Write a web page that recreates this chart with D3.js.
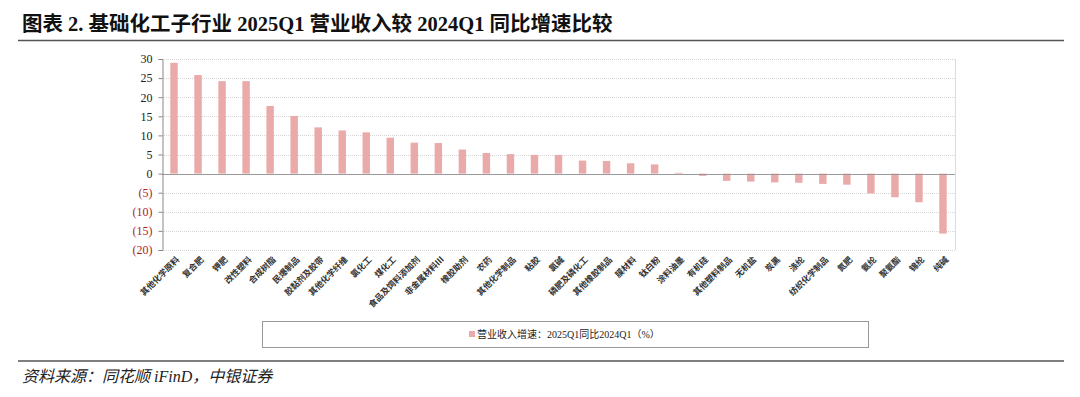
<!DOCTYPE html>
<html>
<head>
<meta charset="utf-8">
<script src="https://cdn.jsdelivr.net/npm/d3@7"></script>
<style>
  body { margin: 0; background: #fff; }
  svg text { font-family: "Liberation Serif", "Noto Sans CJK SC", serif; }
</style>
</head>
<body>
<div id="chart"></div>
<script>
// sub-industries, revenue growth 2025Q1 vs 2024Q1 (%)
var categories = ["其他化学原料", "复合肥", "钾肥", "改性塑料", "合成树脂", "民爆制品", "胶黏剂及胶带",
    "其他化学纤维", "氯化工", "煤化工", "食品及饲料添加剂", "非金属材料III", "橡胶助剂", "农药",
    "其他化学制品", "粘胶", "氯碱", "磷肥及磷化工", "其他橡胶制品", "膜材料", "钛白粉", "涂料油墨",
    "有机硅", "其他塑料制品", "无机盐", "炭黑", "涤纶", "纺织化学制品", "氮肥", "氨纶", "聚氨酯",
    "锦纶", "纯碱"];
var growth = [29.0, 25.8, 24.2, 24.2, 17.7, 15.1, 12.1, 11.3, 10.8, 9.4, 8.1, 8.0, 6.3, 5.4,
    5.1, 4.9, 4.9, 3.4, 3.3, 2.7, 2.4, 0.2, -0.6, -1.9, -2.1, -2.3, -2.4, -2.7, -2.9, -5.2,
    -6.2, -7.5, -15.7];
var yTicks = [30, 25, 20, 15, 10, 5, 0, -5, -10, -15, -20];

var title = "图表 2. 基础化工子行业 2025Q1 营业收入较 2024Q1 同比增速比较";
var legendLabel = "营业收入增速：2025Q1同比2024Q1（%）";
var source = "资料来源：同花顺 iFinD，中银证券";

var width = 1080,
    height = 397;

var svg = d3.select("#chart")
    .append("svg")
    .attr("width", width)
    .attr("height", height);

// title and rules
svg.append("text")
    .attr("x", 22)
    .attr("y", 31)
    .style("font-size", "20.5px")
    .style("font-weight", "bold")
    .style("fill", "#111")
    .text(title);

svg.append("line")
    .attr("x1", 18).attr("x2", 1064)
    .attr("y1", 40.5).attr("y2", 40.5)
    .style("stroke", "#555")
    .style("stroke-width", 1.6);

svg.append("line")
    .attr("x1", 18).attr("x2", 1064)
    .attr("y1", 361).attr("y2", 361)
    .style("stroke", "#555")
    .style("stroke-width", 1.4);

svg.append("text")
    .attr("x", 22)
    .attr("y", 382)
    .style("font-size", "16px")
    .style("font-style", "italic")
    .style("fill", "#222")
    .text(source);

// scales
var x = d3.scaleBand()
    .domain(categories)
    .range([162, 955])
    .paddingInner(0.69)
    .paddingOuter(0.345);

var y = d3.scaleLinear()
    .domain([-20, 30])
    .range([250, 59]);

// plot frame + gridlines
svg.append("g")
    .attr("class", "grid")
    .selectAll("line")
    .data(yTicks.filter(function(d) { return d != 0; }))
    .enter()
    .append("line")
    .attr("x1", 162).attr("x2", 955)
    .attr("y1", function(d) { return Math.round(y(d)) + 0.5; })
    .attr("y2", function(d) { return Math.round(y(d)) + 0.5; })
    .style("stroke", "#d6d6d6")
    .style("stroke-dasharray", "1,1");

svg.append("line")
    .attr("x1", 955.5).attr("x2", 955.5)
    .attr("y1", y(30)).attr("y2", y(-20))
    .style("stroke", "#dcdcdc");

// bars
svg.append("g")
    .selectAll("rect")
    .data(growth)
    .enter()
    .append("rect")
    .attr("x", function(d, i) { return x(categories[i]); })
    .attr("width", x.bandwidth())
    .attr("y", function(d) { return y(Math.max(0, d)); })
    .attr("height", function(d) { return Math.abs(y(d) - y(0)); })
    .style("fill", "#ebaaaa");

// zero line
svg.append("line")
    .attr("x1", 162).attr("x2", 955)
    .attr("y1", Math.round(y(0)) + 0.5).attr("y2", Math.round(y(0)) + 0.5)
    .style("stroke", "#9a9a9a")
    .style("stroke-width", 1.2);

// y axis
var yAxis = d3.axisLeft(y)
    .tickValues(yTicks)
    .tickSize(4)
    .tickFormat(function(d) { return d < 0 ? "(" + (-d) + ")" : d; });

var ya = svg.append("g")
    .attr("transform", "translate(162.5,0)")
    .call(yAxis);
ya.select(".domain").style("stroke", "#888");
ya.selectAll(".tick line").style("stroke", "#888");
ya.selectAll(".tick text")
    .attr("x", -10)
    .style("font-size", "12px")
    .style("font-family", "Liberation Serif, serif")
    .style("fill", function(d) { return d < 0 ? "#b22222" : "#222"; });

// category labels, rotated
svg.append("g")
    .selectAll("text")
    .data(categories)
    .enter()
    .append("text")
    .attr("transform", function(d) {
        return "translate(" + (x(d) + x.bandwidth() / 2 + 4) + ",258) rotate(-45)";
    })
    .attr("text-anchor", "end")
    .attr("dy", "0.35em")
    .style("font-size", "8.5px")
    .style("font-weight", "bold")
    .style("font-family", "Noto Sans CJK SC, sans-serif")
    .style("fill", "#333")
    .text(function(d) { return d; });

// legend
svg.append("rect")
    .attr("x", 262.5).attr("y", 321.5)
    .attr("width", 606).attr("height", 26)
    .style("fill", "none")
    .style("stroke", "#999");

svg.append("rect")
    .attr("x", 469).attr("y", 331)
    .attr("width", 6).attr("height", 6)
    .style("fill", "#ebaaaa");

svg.append("text")
    .attr("x", 477)
    .attr("y", 338)
    .style("font-size", "10px")
    .style("fill", "#222")
    .text(legendLabel);
</script>
</body>
</html>
